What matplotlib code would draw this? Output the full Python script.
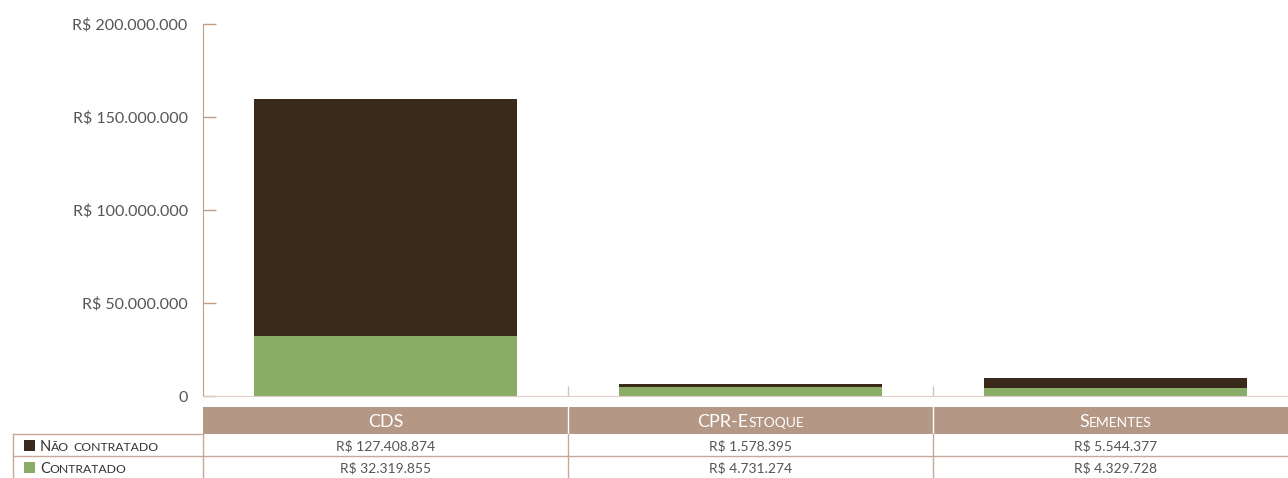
import numpy as np
import matplotlib
matplotlib.use("Agg")
import matplotlib.pyplot as plt
import matplotlib.transforms as mtransforms
from matplotlib.patches import Rectangle
from matplotlib.lines import Line2D

categories = ["CDS", "CPR-Estoque", "Sementes"]
series_names = ["Não contratado", "Contratado"]
nao_contratado = [127408874, 1578395, 5544377]
contratado = [32319855, 4731274, 4329728]
yticks = [0, 50000000, 100000000, 150000000, 200000000]

dark = "#3a2a1b"
green = "#89ad67"
header_col = "#b59785"
line_col = "#c7a898"
text_col = "#555555"

plt.rcParams['font.family'] = ['Lato', 'DejaVu Sans']

W, H = 1288, 478
fig = plt.figure(figsize=(W / 100, H / 100), dpi=100)
ax = fig.add_axes([203 / W, (H - 396) / H, 1095 / W, 372 / H])

x = np.arange(len(categories))
ax.bar(x, contratado, width=0.72, color=green)
ax.bar(x, nao_contratado, width=0.72, bottom=contratado, color=dark)

ax.set_xlim(-0.5, len(categories) - 0.5)
ax.set_ylim(0, 200000000)


def brl(v):
    if v == 0:
        return "0"
    return "R$ " + f"{v:,.0f}".replace(",", ".")


ax.set_yticks(yticks)
ax.set_yticklabels([brl(v) for v in yticks], fontsize=11.5, color=text_col)
ax.tick_params(axis='y', direction='in', length=9.5, width=1, color="#c29c84", pad=11)
ax.set_xticks([])
ax.set_xticks(x[:-1] + 0.5, minor=True)
ax.tick_params(axis='x', which='minor', direction='in', length=7, width=1, color="#cfc4bc")
for s in ["top", "right"]:
    ax.spines[s].set_visible(False)
ax.spines["left"].set_color("#c29c84")
ax.spines["bottom"].set_color("#ddd0c8")

# ---- table under the chart ----
fig.canvas.draw()
renderer = fig.canvas.get_renderer()
ident = mtransforms.IdentityTransform()


def px(xd):
    return ax.transData.transform((xd, 0))[0]


def sc_text(x0, ytop, s, big, small, ha="left", color=text_col):
    # fake small caps: lowercase letters drawn as smaller capitals
    runs = []
    for ch in s:
        low = ch.islower()
        if runs and runs[-1][1] == low:
            runs[-1][0] += ch
        else:
            runs.append([ch, low])
    y = H - ytop
    arts = []
    cx = 0
    for r, low in runs:
        t = fig.text(cx, y, r.upper() if low else r, fontsize=small if low else big,
                     color=color, transform=ident, va="baseline", ha="left")
        w = t.get_window_extent(renderer).width
        arts.append((t, cx))
        cx += w
    off = x0 - cx / 2 if ha == "center" else x0
    for t, cx0 in arts:
        t.set_x(cx0 + off)


edges = [px(i - 0.5) for i in range(len(categories) + 1)]
left_lab = 13

# header row
for i, c in enumerate(categories):
    x0, x1 = edges[i], edges[i + 1]
    fig.patches.append(Rectangle((x0, H - 434), x1 - x0, 27, transform=ident,
                                 facecolor=header_col, edgecolor="none"))
    if i > 0:
        fig.lines.append(Line2D([x0, x0], [H - 434, H - 407], transform=ident,
                                color="white", lw=1))
    sc_text((x0 + x1) / 2, 427, c, 13, 10, ha="center", color="white")

# grid lines of the data rows
rows_top = [434, 456]
fig.lines.append(Line2D([left_lab, W], [H - 456, H - 456], transform=ident, color=line_col, lw=1))
fig.lines.append(Line2D([left_lab, edges[0]], [H - 434, H - 434], transform=ident, color=line_col, lw=1))
for xe in [left_lab] + edges[:-1]:
    fig.lines.append(Line2D([xe, xe], [0, H - 434], transform=ident, color=line_col, lw=1))

values = [nao_contratado, contratado]
colors = [dark, green]
for r, (name, vals, col) in enumerate(zip(series_names, values, colors)):
    top = rows_top[r]
    fig.patches.append(Rectangle((24, H - top - 17), 11, 11, transform=ident,
                                 facecolor=col, edgecolor="none"))
    sc_text(40, top + 17, name, 10.5, 8.8, color="#333333")
    for i, v in enumerate(vals):
        fig.text((edges[i] + edges[i + 1]) / 2, H - top - 17, brl(v), fontsize=10,
                 color=text_col, transform=ident, ha="center", va="baseline")

fig.savefig("out.png", dpi=100)
